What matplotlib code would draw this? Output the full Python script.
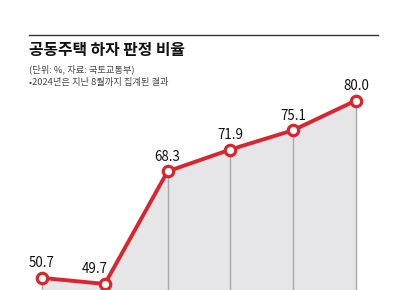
import matplotlib
matplotlib.use("Agg")
import matplotlib.pyplot as plt

plt.rcParams['font.family'] = ['Noto Sans CJK KR', 'DejaVu Sans']

years = ["2019", "2020", "2021", "2022", "2023", "2024"]
values = [50.7, 49.7, 68.3, 71.9, 75.1, 80.0]
label_dx = [0, -7, 0, 0, 0, 0]

title = "공동주택 하자 판정 비율"
subtitle = "(단위: %, 자료: 국토교통부)"
note = "•2024년은 지난 8월까지 집계된 결과"

fig = plt.figure(figsize=(4.1, 2.9), dpi=100)
ax = fig.add_axes([0, 0, 1, 1])
x = list(range(len(values)))
ax.set_xlim(-0.669, 5.86)
ax.set_ylim(48.7, 96.6)
ax.axis('off')

ax.fill_between(x, values, 40, color='#e6e6e8', zorder=1, linewidth=0)
for xi, v in zip(x, values):
    ax.plot([xi, xi], [40, v], color='#a8a8a8', lw=1.0, zorder=2)
ax.plot(x, values, color='#d7262f', lw=2.8, zorder=3,
        marker='o', markersize=7.5, markerfacecolor='white',
        markeredgecolor='#d7262f', markeredgewidth=2.3)
for xi, v, dx in zip(x, values, label_dx):
    ax.annotate(f"{v:.1f}", (xi, v), xytext=(dx, 10.5), textcoords='offset points',
                ha='center', va='center', fontsize=9.6, color='#111111',
                family=['Liberation Sans Narrow', 'Noto Sans CJK KR', 'DejaVu Sans'])

# header
fig.add_artist(plt.Line2D([29/410, 378/410], [1 - 34.5/290, 1 - 34.5/290],
                          color='#333333', lw=1.0, transform=fig.transFigure))
fig.text(29/410, 1 - 50/290, title, fontsize=11.4, fontweight='bold',
         va='center', ha='left', color='#111111')
fig.text(29/410, 1 - 69/290, subtitle, fontsize=6.7, va='center', ha='left',
         color='#444444')
fig.text(29/410, 1 - 82/290, note, fontsize=6.7, va='center', ha='left',
         color='#444444')

fig.savefig("out.png", dpi=100)
